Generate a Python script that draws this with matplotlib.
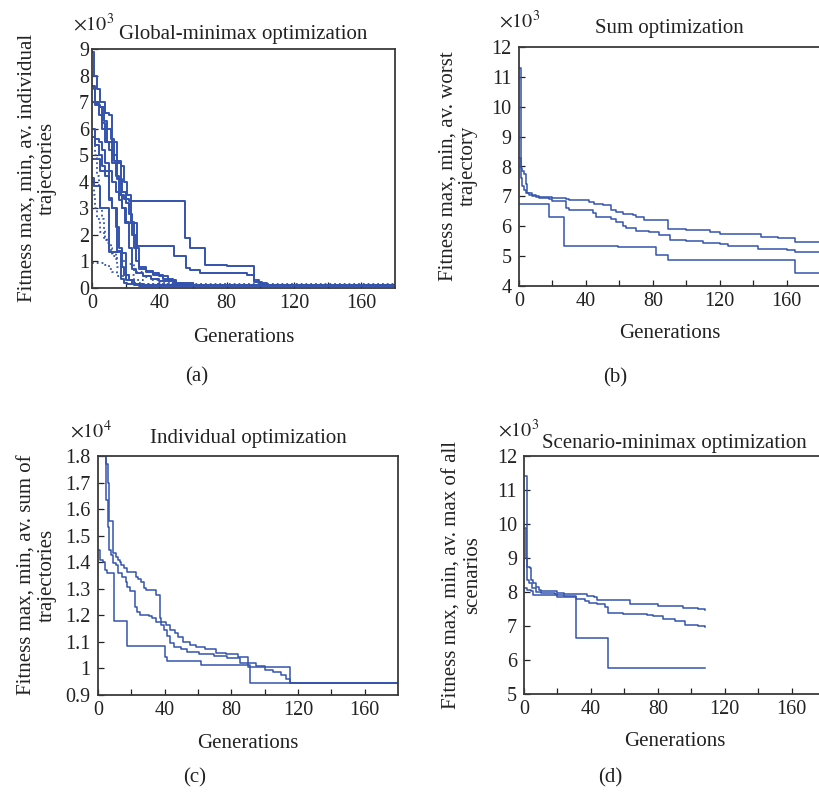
import matplotlib
matplotlib.use('Agg')
import matplotlib.pyplot as plt

# ---------------- data ----------------
# (a) Global-minimax optimization (x10^3)
a_x1 = [0, 1, 2, 3, 5, 7, 9, 11, 13, 15, 17, 19, 22, 55, 58, 67, 80, 96, 99, 104, 180]
a_y1 = [7.6, 7.5, 7.0, 6.9, 6.8, 6.3, 6.0, 5.6, 4.8, 4.7, 3.5, 3.35, 3.28, 1.9, 1.5, 0.88, 0.83, 0.3, 0.2, 0.12, 0.12]
a_x2 = [0, 2, 4, 6, 8, 10, 12, 14, 16, 18, 19.5, 27, 49, 56, 58, 64, 92, 96, 101, 180]
a_y2 = [7.0, 6.9, 6.5, 6.2, 5.5, 5.2, 4.7, 4.2, 3.5, 3.0, 2.45, 1.58, 1.2, 0.75, 0.68, 0.55, 0.5, 0.24, 0.1, 0.1]
a_x3 = [0, 1, 3, 5, 8, 10, 12, 15, 17, 19, 21, 23, 25, 28, 32, 36, 40, 45, 50, 60, 180]
a_y3 = [8.9, 8.0, 7.5, 7.0, 6.6, 6.5, 5.5, 4.8, 4.6, 4.0, 3.5, 2.5, 1.5, 0.8, 0.65, 0.55, 0.45, 0.3, 0.2, 0.12, 0.12]
a_x4 = [0, 2, 4, 6, 8, 10, 12, 14, 16, 18, 20, 22, 24, 26, 30, 35, 40, 50, 180]
a_y4 = [6.0, 5.6, 5.5, 5.2, 4.7, 4.4, 4.0, 3.6, 3.3, 3.0, 2.5, 1.5, 0.7, 0.55, 0.45, 0.35, 0.25, 0.12, 0.12]
a_x5 = [0, 1, 5, 10, 17, 19, 21, 25, 180]
a_y5 = [4.15, 3.85, 3.0, 1.35, 0.35, 0.2, 0.15, 0.1, 0.1]
a_x6 = [0, 5, 10, 12, 15, 18, 20, 22, 25, 30, 180]
a_y6 = [4.85, 4.4, 3.3, 3.0, 1.4, 1.3, 0.5, 0.3, 0.15, 0.1, 0.1]
a_x7 = [0, 2, 4, 6, 9, 12, 15, 18, 20, 22, 24, 26, 28, 32, 36, 42, 48, 55, 180]
a_y7 = [7.6, 7.0, 6.8, 6.0, 5.5, 5.0, 4.1, 3.6, 3.2, 2.8, 2.0, 1.0, 0.7, 0.6, 0.5, 0.35, 0.2, 0.12, 0.12]
a_x8 = [0, 2, 4, 6, 8, 10, 12, 14, 16, 18, 19, 20, 24, 28, 180]
a_y8 = [5.7, 5.4, 5.0, 4.6, 4.2, 3.4, 3.0, 2.3, 1.5, 0.8, 0.5, 0.3, 0.15, 0.08, 0.08]
a_xd1 = [0, 8, 10, 12, 15, 20, 25, 30, 180]
a_yd1 = [0.93, 0.85, 0.7, 0.6, 0.45, 0.3, 0.2, 0.15, 0.15]
a_xd2 = [0, 2, 3, 4, 5, 6, 7, 8, 10, 12, 15, 20, 25, 30, 40, 180]
a_yd2 = [6.0, 5.0, 4.2, 3.8, 3.0, 2.6, 2.2, 1.8, 1.5, 1.2, 0.8, 0.5, 0.3, 0.15, 0.1, 0.1]
a_xd3 = [0, 1, 2, 3, 5, 7, 9, 11, 14, 17, 20, 25, 30, 35, 40, 50, 180]
a_yd3 = [4.0, 3.5, 3.0, 2.6, 2.1, 1.9, 1.7, 1.3, 1.1, 1.0, 0.9, 0.6, 0.4, 0.3, 0.2, 0.1, 0.1]

# (b) Sum optimization (x10^3)
b_x_max = [0, 1.2, 2, 3, 4, 6, 10, 20, 28, 30, 42, 45, 50, 55, 58, 62, 68, 70, 75, 89, 100, 114, 120, 130, 145, 155, 165, 180]
b_max = [11.3, 7.6, 7.35, 7.2, 7.1, 7.03, 6.98, 6.93, 6.9, 6.88, 6.82, 6.75, 6.72, 6.55, 6.48, 6.42, 6.37, 6.3, 6.22, 5.9, 5.87, 5.8, 5.75, 5.73, 5.65, 5.6, 5.48, 5.48]
b_x_avg = [0, 1, 2, 3, 4, 5, 8, 12, 18, 20, 28, 30, 44, 46, 55, 58, 62, 64, 70, 78, 84, 90, 100, 110, 120, 125, 143, 160, 165, 180]
b_avg = [8.3, 7.95, 7.85, 7.75, 7.4, 7.1, 7.0, 6.95, 6.9, 6.85, 6.62, 6.55, 6.45, 6.3, 6.25, 6.15, 6.0, 5.93, 5.85, 5.8, 5.7, 5.53, 5.5, 5.45, 5.4, 5.33, 5.25, 5.22, 5.13, 5.13]
b_x_min = [0, 18, 27, 59, 82, 89, 165, 180]
b_min = [6.75, 6.3, 5.35, 5.3, 5.05, 4.88, 4.43, 4.43]

# (c) Individual optimization (x10^4)
c_x_max = [0, 2, 3.6, 5, 6, 6.6, 8.8, 9.2, 11, 12, 13, 14, 15.6, 17.6, 23, 24, 25.6, 27.6, 28.6, 35, 37, 38, 41, 43, 46, 48, 51, 55, 59, 64, 71, 77, 84, 90, 115, 180]
c_max = [1.95, 1.85, 1.8, 1.77, 1.70, 1.555, 1.50, 1.435, 1.42, 1.41, 1.40, 1.39, 1.377, 1.364, 1.345, 1.335, 1.325, 1.302, 1.295, 1.277, 1.19, 1.176, 1.164, 1.145, 1.132, 1.12, 1.10, 1.088, 1.082, 1.072, 1.06, 1.053, 1.042, 1.005, 0.945, 0.945]
c_x_avg = [0, 2, 4.6, 6, 6.6, 8, 9.2, 11, 12, 14.6, 16.6, 17.6, 19.2, 22, 23.6, 25.2, 30.6, 32.6, 34.6, 37.6, 39.6, 41.6, 43.2, 45.6, 49.6, 53.6, 60.6, 69.6, 77.6, 85, 95, 100, 105, 110, 113, 115, 180]
c_avg = [1.9, 1.8, 1.634, 1.534, 1.446, 1.427, 1.396, 1.39, 1.358, 1.343, 1.327, 1.308, 1.293, 1.233, 1.214, 1.2, 1.199, 1.19, 1.176, 1.164, 1.145, 1.122, 1.095, 1.08, 1.072, 1.063, 1.054, 1.047, 1.038, 1.022, 1.01, 0.995, 0.985, 0.975, 0.962, 0.945, 0.945]
c_x_min = [0, 1.2, 3.2, 4, 5.2, 9.6, 17.6, 40.4, 41.6, 62, 91, 180]
c_min = [1.446, 1.408, 1.40, 1.37, 1.358, 1.18, 1.085, 1.044, 1.029, 1.013, 0.945, 0.945]

# (d) Scenario-minimax optimization (x10^3)
d_x_max = [0, 1.6, 3.6, 4.4, 5.5, 6.9, 8.9, 9.9, 19.8, 23.8, 37.6, 41.6, 43.6, 63.4, 80, 95, 104, 108]
d_max = [11.4, 8.74, 8.7, 8.35, 8.26, 8.16, 8.06, 8.04, 7.98, 7.94, 7.88, 7.85, 7.77, 7.64, 7.6, 7.53, 7.5, 7.48]
d_x_avg = [0, 1, 2, 3, 5, 7, 10, 18.8, 19.8, 23.8, 31, 36.6, 38.6, 43.6, 48.5, 50.5, 59.4, 73.3, 77, 83, 90.5, 96.4, 104, 108]
d_avg = [9.87, 9.0, 8.35, 8.26, 8.11, 8.01, 7.96, 7.94, 7.91, 7.88, 7.79, 7.75, 7.69, 7.65, 7.57, 7.38, 7.36, 7.33, 7.28, 7.2, 7.14, 7.04, 7.0, 6.97]
d_x_min = [0, 1.5, 4, 5.5, 19.8, 31, 50.5, 108]
d_min = [8.12, 8.06, 8.03, 7.91, 7.84, 6.66, 5.76, 5.76]

x_ticks = [0, 20, 40, 60, 80, 100, 120, 140, 160]
x_ticklabels = ['0', '', '40', '', '80', '', '120', '', '160']
a_yticks = list(range(0, 10))
b_yticks = list(range(4, 13))
c_yticks = [0.9, 1.0, 1.1, 1.2, 1.3, 1.4, 1.5, 1.6, 1.7, 1.8]
c_yticklabels = ['0.9', '1', '1.1', '1.2', '1.3', '1.4', '1.5', '1.6', '1.7', '1.8']
d_yticks = list(range(5, 13))

titles = ['Global-minimax optimization', 'Sum optimization',
          'Individual optimization', 'Scenario-minimax optimization']
ylabels = ['Fitness max, min, av. individual\ntrajectories',
           'Fitness max, min, av. worst\ntrajectory',
           'Fitness max, min, av. sum of\ntrajectories',
           'Fitness max, min, av. max of all\nscenarios']
panel_tags = ['(a)', '(b)', '(c)', '(d)']
exponents = [r'$\times10^{3}$', r'$\times10^{3}$', r'$\times10^{4}$', r'$\times10^{3}$']

# ---------------- style ----------------
plt.rcParams['font.family'] = ['Liberation Serif', 'DejaVu Serif']
plt.rcParams['mathtext.fontset'] = 'stix'

W, H = 819, 793
fig = plt.figure(figsize=(W / 100, H / 100), dpi=100)
BLUE = '#3453ad'
FS = 15
TFS = 14.5


def px_axes(l, t, r, b):
    return fig.add_axes([l / W, 1 - b / H, (r - l) / W, (b - t) / H])


def fx(x):
    return x / W


def fy(y):
    return 1 - y / H


boxes = [(92, 49, 395, 288), (519, 47, 820, 286), (98, 456, 398, 695), (524, 456, 825, 694)]
axs = [px_axes(*bx) for bx in boxes]

# (a)
ax = axs[0]
for xs, ys in [(a_x1, a_y1), (a_x2, a_y2), (a_x3, a_y3), (a_x4, a_y4),
               (a_x5, a_y5), (a_x6, a_y6), (a_x7, a_y7), (a_x8, a_y8)]:
    ax.step(xs, ys, where='post', color=BLUE, lw=1.4)
for xs, ys in [(a_xd1, a_yd1), (a_xd2, a_yd2), (a_xd3, a_yd3)]:
    ax.step(xs, ys, where='post', color=BLUE, lw=1.3, ls=':')
ax.set_ylim(0, 9)
ax.set_yticks(a_yticks)
ax.set_yticklabels([str(v) for v in a_yticks])

# (b)
ax = axs[1]
for xs, ys in [(b_x_max, b_max), (b_x_avg, b_avg), (b_x_min, b_min)]:
    ax.step(xs, ys, where='post', color=BLUE, lw=1.1)
ax.set_ylim(4, 12)
ax.set_yticks(b_yticks)
ax.set_yticklabels([str(v) for v in b_yticks])

# (c)
ax = axs[2]
for xs, ys in [(c_x_max, c_max), (c_x_avg, c_avg), (c_x_min, c_min)]:
    ax.step(xs, ys, where='post', color=BLUE, lw=1.1)
ax.set_ylim(0.9, 1.8)
ax.set_yticks(c_yticks)
ax.set_yticklabels(c_yticklabels)

# (d)
ax = axs[3]
for xs, ys in [(d_x_max, d_max), (d_x_avg, d_avg), (d_x_min, d_min)]:
    ax.step(xs, ys, where='post', color=BLUE, lw=1.1)
ax.set_ylim(5, 12)
ax.set_yticks(d_yticks)
ax.set_yticklabels([str(v) for v in d_yticks])

title_pads = [7, 10, 9, 6]
ytick_pads = [2.0, 5.5, 5.5, 5.0]
exp_pos = [(73, 31), (499, 28), (70, 438), (498, 437)]
xlabel_y = [337, 333, 743, 741]
ylabel_pos = [(37, 168), (458, 166), (37, 575), (462, 575)]
tag_pos = [(197, 377), (615, 378), (195, 778), (610, 778)]

for i, ax in enumerate(axs):
    ax.set_xlim(0, 180)
    ax.set_xticks(x_ticks)
    ax.set_xticklabels(x_ticklabels)
    ax.tick_params(direction='in', length=4, width=0.9, top=False, right=False,
                   labelsize=TFS, colors='#222222')
    ax.tick_params(axis='x', pad=4)
    ax.tick_params(axis='y', pad=ytick_pads[i])
    for sp in ax.spines.values():
        sp.set_color('#3a3a3a')
        sp.set_linewidth(1.3)
    ax.set_title(titles[i], fontsize=FS, pad=title_pads[i], color='#222222')
    l, t, r, b = boxes[i]
    fig.text(fx((l + r) / 2), fy(xlabel_y[i]),
             'Generations', ha='center', va='center', fontsize=FS, color='#222222')
    fig.text(fx(ylabel_pos[i][0]), fy(ylabel_pos[i][1]), ylabels[i], rotation=90,
             ha='center', va='center', multialignment='center', fontsize=FS,
             linespacing=1.1, color='#222222')
    fig.text(fx(exp_pos[i][0]), fy(exp_pos[i][1]), exponents[i], ha='left',
             va='baseline', fontsize=TFS, color='#222222')
    fig.text(fx(tag_pos[i][0]), fy(tag_pos[i][1]), panel_tags[i], ha='center',
             va='center', fontsize=FS, color='#222222')

fig.savefig('out.png', dpi=100)
